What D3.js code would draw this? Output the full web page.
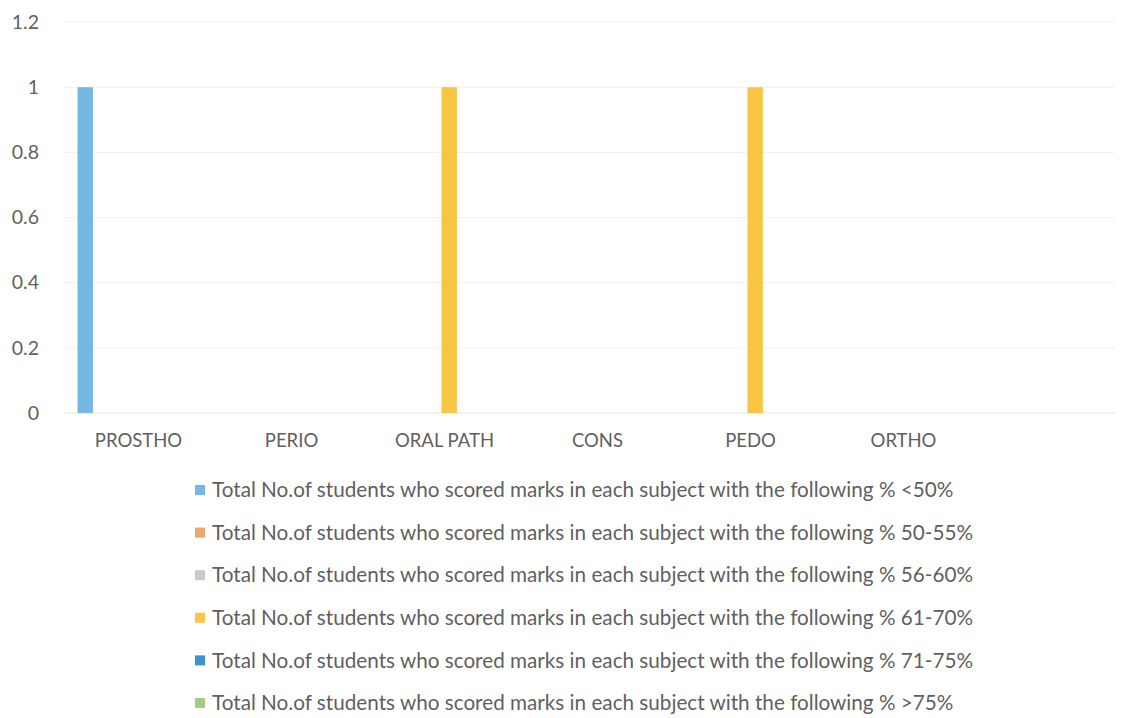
<!DOCTYPE html>
<html>
<head>
<meta charset="utf-8">
<script src="https://cdn.jsdelivr.net/npm/d3@7"></script>
<style>
  body { margin: 0; background: #fff; }
  text { font-family: Lato, "Open Sans", sans-serif; fill: #5f5f5f; }
</style>
</head>
<body>
<svg id="chart" width="1123" height="718"></svg>
<script>
const subjects = ['PROSTHO', 'PERIO', 'ORAL PATH', 'CONS', 'PEDO', 'ORTHO'];
const ranges = ['<50%', '50-55%', '56-60%', '61-70%', '71-75%', '>75%'];
// one array per range, values per subject
const below50 = [1, 0, 0, 0, 0, 0];
const r50to55 = [0, 0, 0, 0, 0, 0];
const r56to60 = [0, 0, 0, 0, 0, 0];
const r61to70 = [0, 0, 1, 0, 1, 0];
const r71to75 = [0, 0, 0, 0, 0, 0];
const above75 = [0, 0, 0, 0, 0, 0];
const yTicks = [0, 0.2, 0.4, 0.6, 0.8, 1, 1.2];
const colors = ['#74b9e4', '#f2a46e', '#c9c9c9', '#f8c545', '#3e8fd4', '#a3cd80'];

const seriesValues = [below50, r50to55, r56to60, r61to70, r71to75, above75];
const prefix = 'Total No.of students who scored marks in each subject with the following % ';

const svg = d3.select('#chart');

// scales
const x0 = d3.scaleBand()
  .domain(subjects)
  .range([57, 57 + 153 * subjects.length]);

const x1 = d3.scaleBand()
  .domain(ranges)
  .range([-56, 56])
  .paddingInner(0.2);

const y = d3.scaleLinear()
  .domain([0, 1.2])
  .range([413, 22]);

// gridlines (very faint, like the scan)
svg.append('g')
  .selectAll('line')
  .data(yTicks)
  .enter()
  .append('line')
  .attr('x1', 64)
  .attr('x2', 1115)
  .attr('y1', d => y(d))
  .attr('y2', d => y(d))
  .attr('stroke', d => d === 0 ? '#e4e4e4' : '#f0f0f0')
  .attr('stroke-width', 1);

// y tick labels
svg.append('g')
  .selectAll('text')
  .data(yTicks)
  .enter()
  .append('text')
  .attr('x', 39)
  .attr('y', d => y(d))
  .attr('dy', '0.35em')
  .attr('text-anchor', 'end')
  .style('font-size', '19.5px')
  .text(d => d);

// bars
const groups = svg.append('g')
  .selectAll('g')
  .data(subjects)
  .enter()
  .append('g')
  .attr('transform', d => 'translate(' + (x0(d) + x0.bandwidth() / 2) + ',0)');

groups.selectAll('rect')
  .data((d, i) => ranges.map((r, s) => ({range: r, value: seriesValues[s][i], color: colors[s]})))
  .enter()
  .append('rect')
  .filter(d => d.value > 0)
  .attr('x', d => x1(d.range))
  .attr('width', x1.bandwidth())
  .attr('y', d => y(d.value))
  .attr('height', d => y(0) - y(d.value))
  .attr('fill', d => d.color);

// category labels
svg.append('g')
  .selectAll('text')
  .data(subjects)
  .enter()
  .append('text')
  .attr('x', d => x0(d) + x0.bandwidth() / 2 + 5)
  .attr('y', 441)
  .attr('dy', '0.35em')
  .attr('text-anchor', 'middle')
  .style('font-size', '18.5px')
  .text(d => d);

// legend
const legend = svg.append('g')
  .selectAll('g')
  .data(ranges)
  .enter()
  .append('g')
  .attr('transform', (d, i) => 'translate(195,' + (490 + i * 42.6) + ')');

legend.append('rect')
  .attr('x', 0)
  .attr('y', -5)
  .attr('width', 10)
  .attr('height', 10)
  .attr('fill', (d, i) => colors[i]);

legend.append('text')
  .attr('x', 17)
  .attr('dy', '0.35em')
  .style('font-size', '20.7px')
  .text(d => prefix + d);
</script>
</body>
</html>
